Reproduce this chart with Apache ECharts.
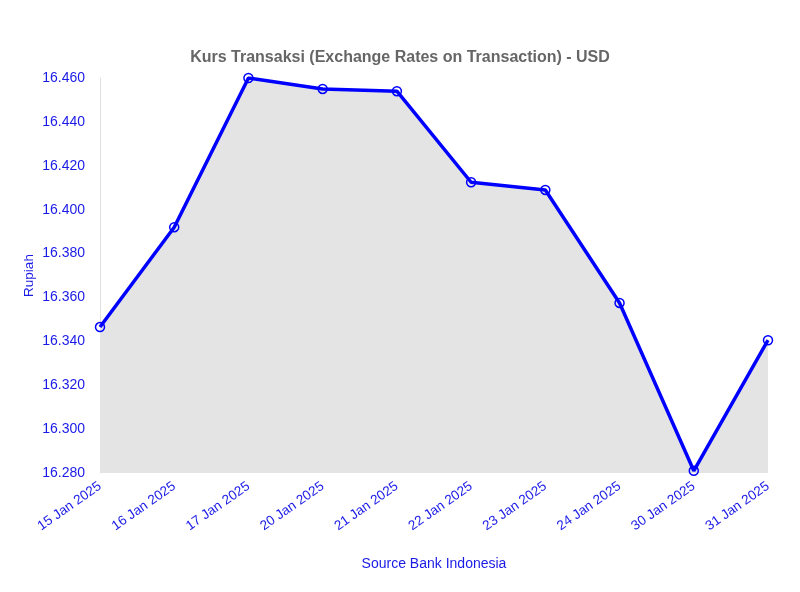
<!DOCTYPE html>
<html>
<head>
<meta charset="utf-8">
<script src="https://cdn.jsdelivr.net/npm/echarts@6/dist/echarts.min.js"></script>
<style>
  html, body { margin: 0; padding: 0; background: #fff; }
  #chart { width: 800px; height: 592px; }
</style>
</head>
<body>
<div id="chart"></div>
<script>
var dates = ['15 Jan 2025', '16 Jan 2025', '17 Jan 2025', '20 Jan 2025', '21 Jan 2025',
             '22 Jan 2025', '23 Jan 2025', '24 Jan 2025', '30 Jan 2025', '31 Jan 2025'];
var rates = [16346.5, 16392, 16460, 16455, 16454, 16412.5, 16409, 16357.5, 16281, 16340.5];

var textBlue = '#1a1ae6';

function fmtRupiah(v) {
    return Math.round(v).toString().replace(/\B(?=(\d{3})+(?!\d))/g, '.');
}

var myChart = echarts.init(document.getElementById('chart'));

var option = {
    backgroundColor: '#fff',
    title: {
        text: 'Kurs Transaksi (Exchange Rates on Transaction) - USD',
        left: 'center',
        top: 45,
        textStyle: { fontFamily: 'Liberation Sans, Arial', fontSize: 16, fontWeight: 'bold', color: '#666' }
    },
    grid: { left: 100, right: 32, top: 78, bottom: 119 },
    xAxis: {
        type: 'category',
        data: dates,
        boundaryGap: false,
        name: 'Source Bank Indonesia',
        nameLocation: 'middle',
        nameGap: 84,
        nameMoveOverlap: false,
        nameTextStyle: { fontFamily: 'Liberation Sans, Arial', fontSize: 14, color: textBlue },
        axisLine: { show: false },
        axisTick: { show: false },
        splitLine: { show: false },
        axisLabel: {
            rotate: 35,
            margin: 12,
            interval: 0,
            fontFamily: 'Liberation Sans, Arial',
            fontSize: 13.5,
            color: textBlue
        }
    },
    yAxis: {
        type: 'value',
        min: 16280,
        max: 16460,
        interval: 20,
        name: 'Rupiah',
        nameLocation: 'middle',
        nameGap: 64,
        nameMoveOverlap: false,
        nameTextStyle: { fontFamily: 'Liberation Sans, Arial', fontSize: 13.5, color: textBlue },
        axisLine: { show: true, lineStyle: { color: '#e0e0e0', width: 1 } },
        axisTick: { show: false },
        splitLine: { show: false },
        axisLabel: {
            margin: 15,
            fontFamily: 'Liberation Sans, Arial',
            fontSize: 14,
            color: textBlue,
            formatter: fmtRupiah
        }
    },
    series: [{
        type: 'line',
        data: rates,
        symbol: 'circle',
        symbolSize: 9,
        lineStyle: { color: '#0000ff', width: 3.5 },
        itemStyle: { color: 'rgba(0,0,0,0)', borderColor: '#0000ff', borderWidth: 1.5 },
        areaStyle: { color: '#e4e4e4', opacity: 1, origin: 'start' },
        z: 3
    }]
};

myChart.setOption(option);
</script>
</body>
</html>
